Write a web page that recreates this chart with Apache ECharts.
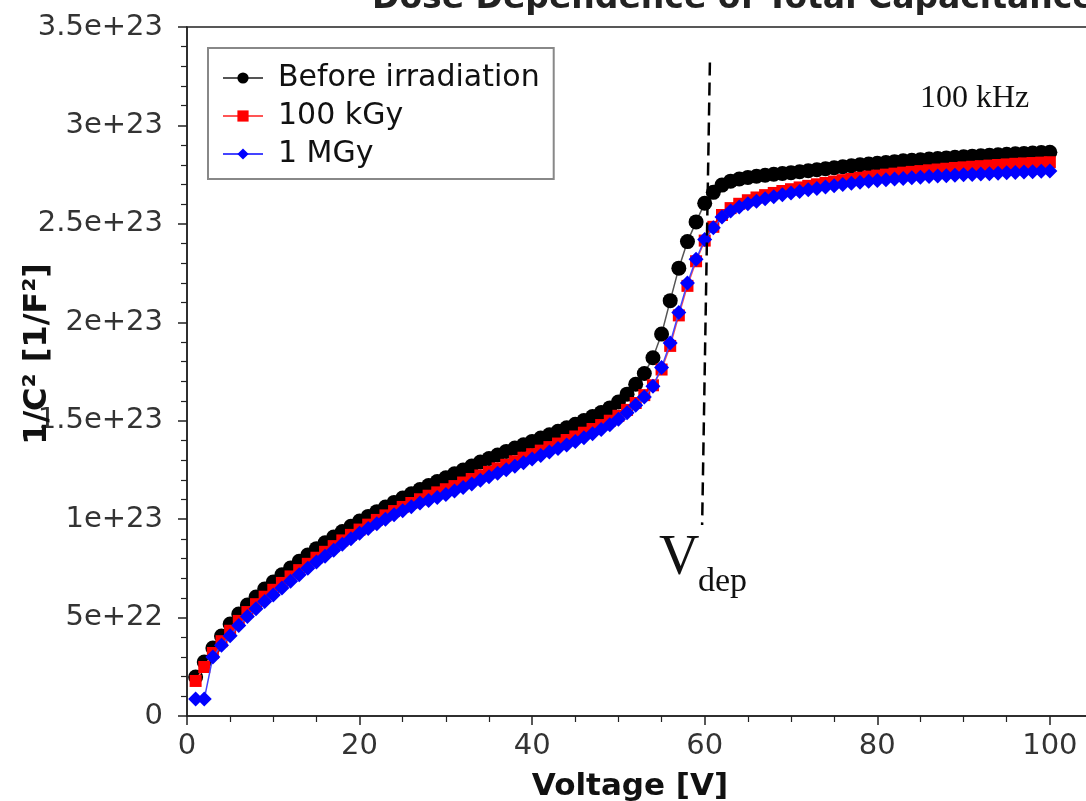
<!DOCTYPE html>
<html>
<head>
<meta charset="utf-8">
<script src="https://cdn.jsdelivr.net/npm/echarts@6/dist/echarts.min.js"></script>
<style>
html,body{margin:0;padding:0;background:#fff;}
#chart{width:1086px;height:801px;}
</style>
</head>
<body>
<div id="chart"></div>
<script>
// Voltage [V]
const voltage = [];
for (let v = 1; v <= 100; v++) voltage.push(v);

// 1/C^2 values in units of 1e22 [1/F^2]
const UNIT = 1e22;
const beforeIrr = [
  1.98, 2.74, 3.45, 4.06, 4.67, 5.18, 5.64, 6.04, 6.45, 6.81,
  7.17, 7.52, 7.86, 8.18, 8.50, 8.80, 9.09, 9.37, 9.64, 9.90,
  10.14, 10.38, 10.62, 10.85, 11.07, 11.29, 11.50, 11.71, 11.91, 12.10,
  12.30, 12.50, 12.70, 12.90, 13.08, 13.26, 13.44, 13.61, 13.78, 13.95,
  14.12, 14.29, 14.46, 14.64, 14.82, 15.01, 15.21, 15.42, 15.65, 15.95,
  16.35, 16.85, 17.40, 18.20, 19.40, 21.10, 22.75, 24.10, 25.10, 26.05,
  26.60, 26.97, 27.17, 27.28, 27.36, 27.42, 27.47, 27.52, 27.56, 27.60,
  27.65, 27.70, 27.75, 27.80, 27.85, 27.90, 27.95, 28.00, 28.04, 28.08,
  28.12, 28.16, 28.20, 28.23, 28.26, 28.29, 28.32, 28.35, 28.38, 28.41,
  28.44, 28.46, 28.49, 28.51, 28.53, 28.56, 28.58, 28.60, 28.62, 28.64
];
const kGy100 = [
  1.78, 2.49, 3.20, 3.80, 4.33, 4.83, 5.28, 5.68, 6.06, 6.41,
  6.76, 7.09, 7.41, 7.73, 8.04, 8.34, 8.63, 8.92, 9.20, 9.47,
  9.72, 9.96, 10.19, 10.41, 10.62, 10.82, 11.01, 11.19, 11.36, 11.52,
  11.68, 11.86, 12.04, 12.22, 12.40, 12.58, 12.76, 12.94, 13.12, 13.30,
  13.48, 13.66, 13.84, 14.02, 14.20, 14.39, 14.58, 14.78, 15.00, 15.25,
  15.55, 15.90, 16.30, 16.80, 17.60, 18.80, 20.35, 21.85, 23.10, 24.15,
  24.85, 25.45, 25.80, 26.02, 26.20, 26.34, 26.46, 26.57, 26.67, 26.76,
  26.85, 26.93, 27.01, 27.08, 27.15, 27.22, 27.28, 27.34, 27.40, 27.45,
  27.50, 27.55, 27.60, 27.64, 27.68, 27.72, 27.76, 27.80, 27.84, 27.87,
  27.90, 27.93, 27.96, 27.99, 28.02, 28.05, 28.07, 28.09, 28.11, 28.13
];
const MGy1 = [
  0.86, 0.86, 3.00, 3.60, 4.08, 4.60, 5.05, 5.45, 5.82, 6.15,
  6.50, 6.84, 7.17, 7.50, 7.82, 8.12, 8.42, 8.72, 9.01, 9.28,
  9.53, 9.77, 10.00, 10.22, 10.43, 10.63, 10.82, 10.95, 11.10, 11.25,
  11.43, 11.61, 11.79, 11.97, 12.15, 12.33, 12.51, 12.69, 12.87, 13.05,
  13.23, 13.41, 13.59, 13.77, 13.95, 14.14, 14.34, 14.56, 14.80, 15.08,
  15.40, 15.78, 16.20, 16.75, 17.70, 18.95, 20.50, 22.00, 23.20, 24.20,
  24.80, 25.35, 25.65, 25.85, 26.02, 26.15, 26.27, 26.38, 26.48, 26.57,
  26.65, 26.73, 26.80, 26.87, 26.94, 27.00, 27.06, 27.11, 27.16, 27.20,
  27.24, 27.28, 27.31, 27.34, 27.37, 27.40, 27.43, 27.45, 27.47, 27.49,
  27.51, 27.53, 27.55, 27.57, 27.59, 27.61, 27.63, 27.65, 27.67, 27.68
];
const seriesNames = ['Before irradiation', '100 kGy', '1 MGy'];
const yTickLabels = ['0', '5e+22', '1e+23', '1.5e+23', '2e+23', '2.5e+23', '3e+23', '3.5e+23'];
const xTickLabels = ['0', '20', '40', '60', '80', '100'];
// V_dep guide line endpoints (voltage, 1/C^2 in 1e22 units)
const vdepLine = [[60.6, 33.2], [59.7, 9.7]];

const FONT = 'DejaVu Sans';
const toPairs = arr => arr.map((y, i) => [voltage[i], y * UNIT]);

const chart = echarts.init(document.getElementById('chart'), null, {renderer: 'canvas'});
chart.setOption({
  animation: false,
  backgroundColor: '#fff',
  grid: {left: 187, top: 27, bottom: 85, width: 906, containLabel: false, outerBoundsMode: 'none',
         show: true, borderColor: '#222', borderWidth: 1.5, backgroundColor: 'transparent'},
  legend: {
    data: seriesNames,
    orient: 'vertical',
    left: 208, top: 48,
    backgroundColor: '#fff',
    borderColor: '#888', borderWidth: 2, borderRadius: 0,
    padding: [15, 14, 10, 14],
    itemGap: 8,
    itemWidth: 40, itemHeight: 14,
    textStyle: {fontFamily: FONT, fontSize: 30, color: '#111', padding: [0, 0, 0, 10]}
  },
  xAxis: {
    type: 'value', min: 0, max: 105, interval: 20,
    name: 'Voltage [V]', nameLocation: 'middle', nameGap: 55,
    nameTextStyle: {fontFamily: FONT, fontSize: 31, fontWeight: 'bold', color: '#111', padding: [0, 20, 0, 0]},
    axisLine: {show: true, lineStyle: {color: '#222', width: 1.5}},
    axisTick: {show: true, inside: false, length: 9, lineStyle: {color: '#222', width: 1.5}},
    minorTick: {show: true, splitNumber: 4, length: 6, lineStyle: {color: '#222', width: 1.2}},
    splitLine: {show: false},
    axisLabel: {
      fontFamily: FONT, fontSize: 29, color: '#333', margin: 16, showMaxLabel: false,
      formatter: v => { const i = Math.round(v / 20); return (Math.abs(v - i * 20) < 1e-6 && i < xTickLabels.length) ? xTickLabels[i] : ''; }
    }
  },
  yAxis: {
    type: 'value', min: 0, max: 3.5e23, interval: 5e22,
    axisLine: {show: true, lineStyle: {color: '#222', width: 1.5}},
    axisTick: {show: true, inside: false, length: 9, lineStyle: {color: '#222', width: 1.5}},
    minorTick: {show: true, splitNumber: 5, length: 6, lineStyle: {color: '#222', width: 1.2}},
    splitLine: {show: false},
    axisLabel: {
      fontFamily: FONT, fontSize: 29, color: '#333', margin: 24,
      formatter: v => yTickLabels[Math.round(v / 5e22)] || ''
    }
  },
  series: [
    {
      name: seriesNames[0], type: 'line', data: toPairs(beforeIrr),
      symbol: 'circle', symbolSize: 15,
      itemStyle: {color: '#000'},
      lineStyle: {color: '#555', width: 1.5}, z: 2
    },
    {
      name: seriesNames[1], type: 'line', data: toPairs(kGy100),
      symbol: 'rect', symbolSize: 12,
      itemStyle: {color: '#ff0000'},
      lineStyle: {color: '#ff5555', width: 1.5}, z: 3
    },
    {
      name: seriesNames[2], type: 'line', data: toPairs(MGy1),
      symbol: 'diamond', symbolSize: 15,
      itemStyle: {color: '#0000ff'},
      lineStyle: {color: '#4444ff', width: 1.5}, z: 4
    },
    {
      name: 'Vdep', type: 'line', data: vdepLine.map(p => [p[0], p[1] * UNIT]),
      symbol: 'none', silent: true,
      lineStyle: {color: '#000', width: 2.5, type: [13, 7]}, z: 5
    }
  ],
  graphic: [
    {type: 'text', left: 372, top: -17, z: 10,
     style: {text: 'Dose Dependence of Total Capacitance', font: 'bold 33px "DejaVu Sans"', fill: '#222'}},
    {type: 'text', x: 38, y: 354, rotation: Math.PI / 2, z: 10,
     style: {text: '1/C² [1/F²]', font: 'bold 32px "DejaVu Sans"', fill: '#111', align: 'center', verticalAlign: 'middle'}},
    {type: 'text', left: 920, top: 83, z: 10,
     style: {text: '100 kHz', font: '32px "Liberation Serif"', fill: '#111'}},
    {type: 'text', left: 659, top: 531, z: 10,
     style: {text: 'V', font: '56px "Liberation Serif"', fill: '#111'}},
    {type: 'text', left: 698, top: 565, z: 10,
     style: {text: 'dep', font: '34px "Liberation Serif"', fill: '#111'}}
  ]
});
</script>
</body>
</html>
